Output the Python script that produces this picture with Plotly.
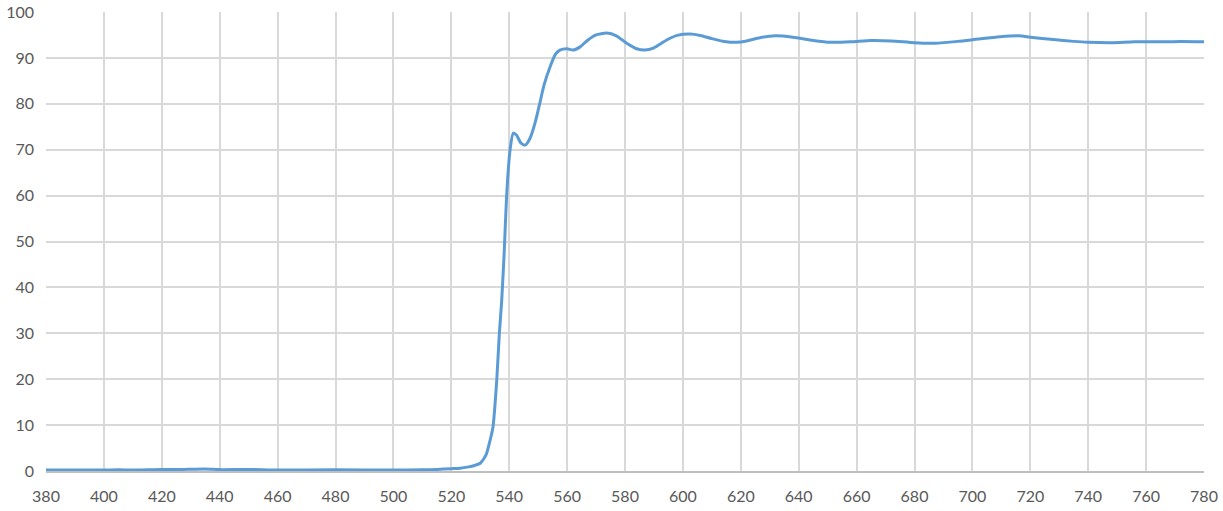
import plotly.graph_objects as go

wavelength = [380, 400, 405, 410, 420, 425, 435, 440, 450, 460, 480, 500, 510, 515, 520, 523, 526, 528, 530, 532,
              533.4, 534.4, 535.7, 536.6, 537.4, 538.3, 539.1, 540.3, 541.4, 542.5, 544, 545.5, 547.2, 549, 550.6,
              552, 554.1, 556, 557.5, 560, 562, 564.5, 567, 570, 573.7, 577, 580.6, 584, 586.9, 590, 594.4, 598,
              602.5, 606, 610, 615, 618.6, 622, 626.6, 632, 638, 645, 651, 658, 665, 672, 680, 687, 695, 702,
              709.5, 716, 720, 728, 735, 740, 748, 756, 765, 772, 780]
transmission = [0.2, 0.2, 0.25, 0.2, 0.35, 0.3, 0.45, 0.3, 0.35, 0.2, 0.25, 0.2, 0.25, 0.35, 0.5, 0.6, 0.9, 1.2, 1.7, 3.5,
                6.7, 9.6, 19.8, 30, 37, 48, 59.8, 70, 73.6, 73.2, 71.5, 71, 72.5, 76, 80.2,
                84, 88, 90.8, 91.7, 92, 91.7, 92.4, 93.8, 95, 95.4, 94.8, 93.2, 92, 91.7, 92.2, 93.9, 94.9,
                95.2, 94.9, 94.2, 93.5, 93.4, 93.7, 94.4, 94.8, 94.5, 93.8, 93.4, 93.5, 93.8, 93.7, 93.3, 93.2, 93.6, 94.1,
                94.6, 94.8, 94.5, 94.0, 93.6, 93.4, 93.3, 93.5, 93.5, 93.6, 93.5]

x_ticks = list(range(380, 781, 20))
y_ticks = list(range(0, 101, 10))

fig = go.Figure()
fig.add_trace(go.Scatter(
    x=wavelength, y=transmission, mode="lines",
    line=dict(color="#5b9bd5", width=3, shape="spline", smoothing=0.6),
    hoverinfo="x+y", showlegend=False,
))

font = dict(family="Lato, 'Open Sans', sans-serif", size=16, color="#595959")
fig.update_layout(
    width=1223, height=511,
    margin=dict(l=46, r=19, t=12, b=40, autoexpand=False),
    paper_bgcolor="white", plot_bgcolor="white",
    font=font,
)
fig.update_xaxes(
    range=[380, 780], tickvals=x_ticks, ticktext=[str(v) for v in x_ticks],
    showgrid=True, gridcolor="#d9d9d9", gridwidth=2,
    showline=True, linecolor="#bfbfbf", linewidth=2,
    zeroline=False, ticks="", ticklabelstandoff=10, automargin=False,
)
fig.update_yaxes(
    range=[0, 100], tickvals=y_ticks, ticktext=[str(v) for v in y_ticks],
    showgrid=True, gridcolor="#d9d9d9", gridwidth=2,
    showline=False, zeroline=False, ticks="", ticklabelstandoff=11, automargin=False,
)
fig.write_html(
    "out.html",
    config={"displayModeBar": False},
    post_script="document.body.style.margin='0';document.body.style.overflow='hidden';",
)
